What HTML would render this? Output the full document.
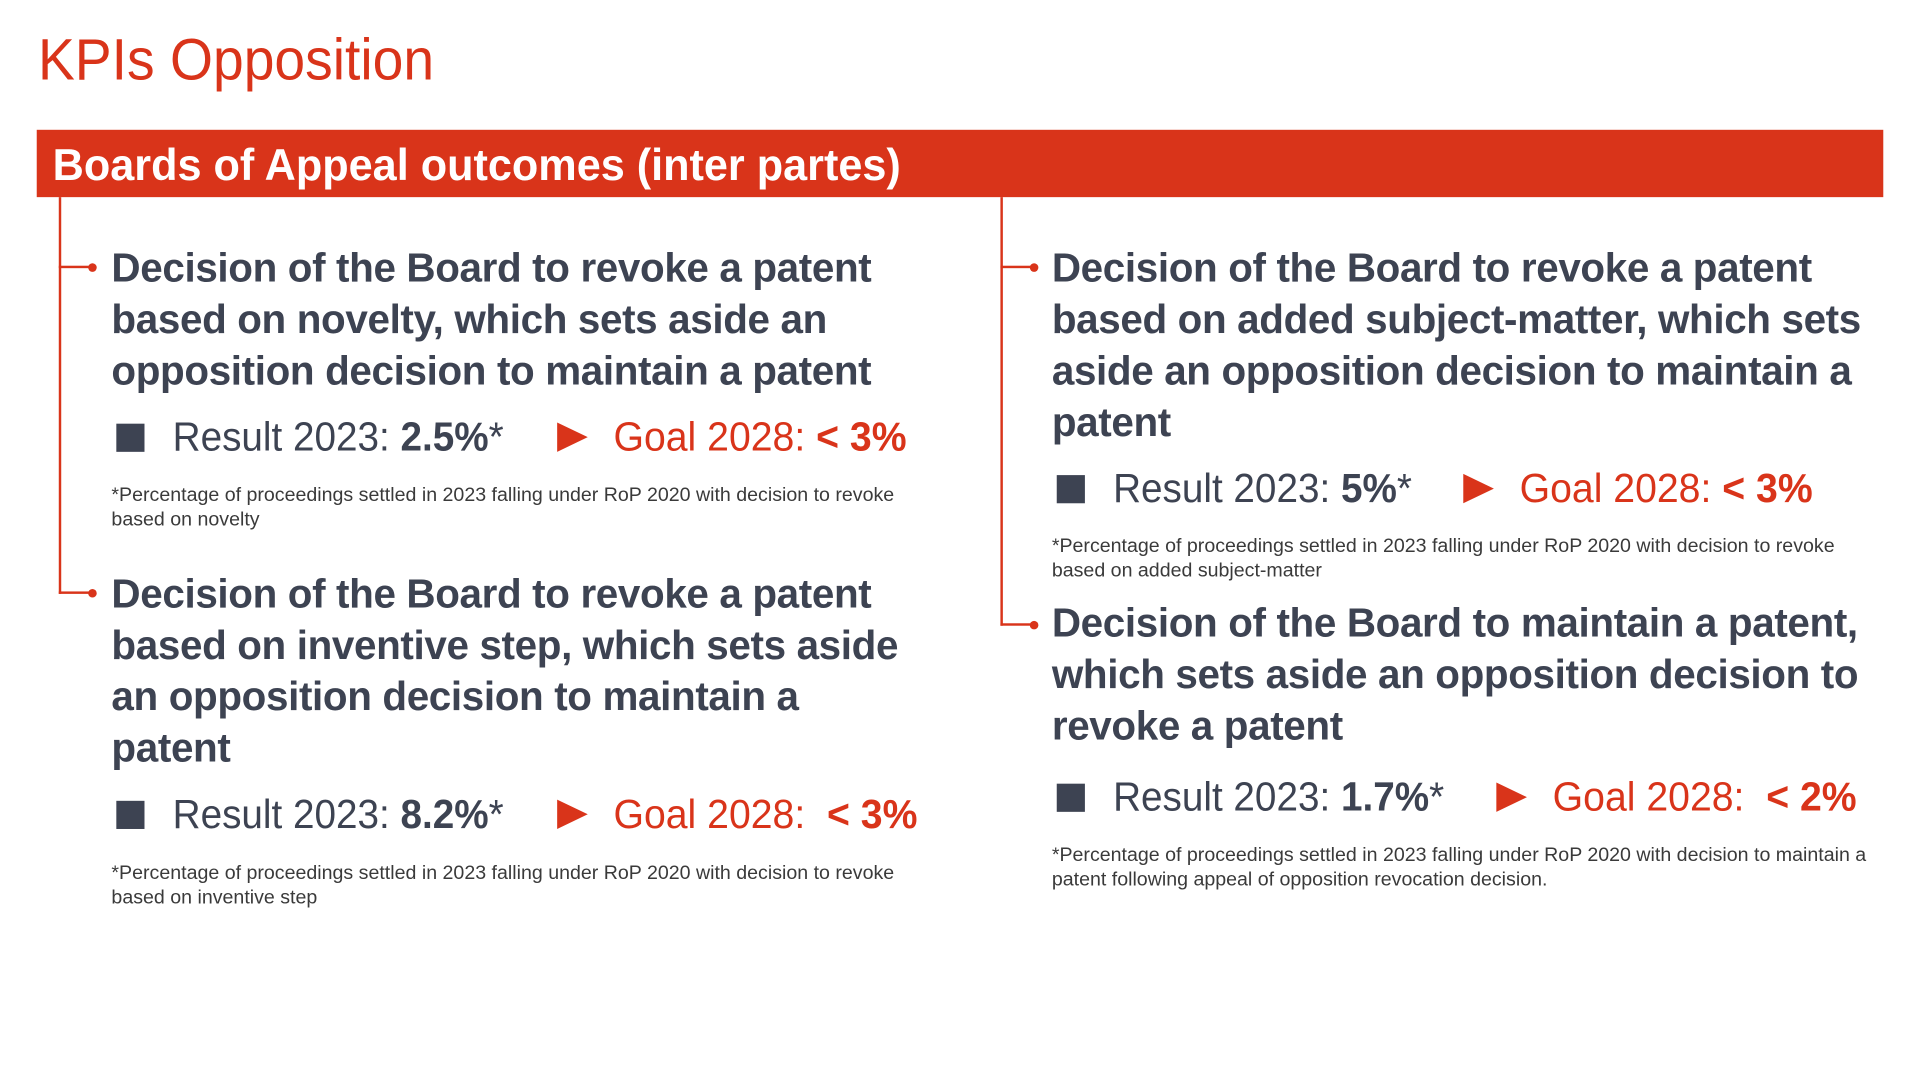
<!DOCTYPE html>
<html><head><meta charset="utf-8"><style>
html,body{margin:0;padding:0;background:#fff;}
body{width:1920px;height:1080px;overflow:hidden;position:relative;}
#c{position:absolute;left:0;top:0;width:1568px;height:882px;transform:scale(1.2245);transform-origin:0 0;font-family:"Liberation Sans",sans-serif;}
.a{position:absolute;white-space:nowrap;}
.h{font-weight:bold;font-size:33px;line-height:42px;color:#3d4352;transform:scaleX(1.0);transform-origin:0 0;letter-spacing:-0.3px;}
.r{font-size:33px;line-height:42px;color:#3d4352;transform:scaleX(0.957);transform-origin:0 0;}
.r b{font-weight:bold;}
.g{color:#d9341a;transform:scaleX(0.97);}
.f{font-size:16px;line-height:20px;color:#3a3a3a;transform:scaleX(1.0);transform-origin:0 0;}
.sq{position:absolute;width:23px;height:23px;background:#3d4352;}
.tri{position:absolute;width:0;height:0;border-top:12px solid transparent;border-bottom:12px solid transparent;border-left:25px solid #d9341a;}
.vl{position:absolute;width:2px;background:#d9341a;}
.hl{position:absolute;height:2px;background:#d9341a;}
.dot{position:absolute;width:7px;height:7px;border-radius:50%;background:#d9341a;}
</style></head><body><div id="c">
<div class="a" style="left:31px;top:20px;font-size:48px;line-height:60px;color:#d9341a;transform:scaleX(0.94);transform-origin:0 0;">KPIs Opposition</div>
<div class="a" style="left:30px;top:106px;width:1508px;height:55px;background:#d9341a;"></div>
<div class="a" style="left:43px;top:112px;font-size:36px;line-height:46px;font-weight:bold;color:#fff;transform:scaleX(0.98);transform-origin:0 0;">Boards of Appeal outcomes (inter partes)</div>

<div class="vl" style="left:48px;top:161px;height:324px;"></div>
<div class="hl" style="left:48px;top:217px;width:26px;"></div><div class="dot" style="left:72px;top:215px;"></div>
<div class="hl" style="left:48px;top:483px;width:26px;"></div><div class="dot" style="left:72px;top:481px;"></div>
<div class="vl" style="left:817px;top:161px;height:350px;"></div>
<div class="hl" style="left:817px;top:217px;width:26px;"></div><div class="dot" style="left:841px;top:215px;"></div>
<div class="hl" style="left:817px;top:509px;width:26px;"></div><div class="dot" style="left:841px;top:507px;"></div>

<div class="a h" style="left:91px;top:198px;">Decision of the Board to revoke a patent<br>based on novelty, which sets aside an<br>opposition decision to maintain a patent</div>
<div class="sq" style="left:95px;top:346px;"></div>
<div class="a r" style="left:141px;top:336px;">Result 2023: <b>2.5%</b>*</div>
<div class="tri" style="left:455px;top:345px;"></div>
<div class="a r g" style="left:501px;top:336px;">Goal 2028: <b>&lt; 3%</b></div>
<div class="a f" style="left:91px;top:395px;">*Percentage of proceedings settled in 2023 falling under RoP 2020 with decision to revoke<br>based on novelty</div>

<div class="a h" style="left:91px;top:464px;">Decision of the Board to revoke a patent<br>based on inventive step, which sets aside<br>an opposition decision to maintain a<br>patent</div>
<div class="sq" style="left:95px;top:654px;"></div>
<div class="a r" style="left:141px;top:644px;">Result 2023: <b>8.2%</b>*</div>
<div class="tri" style="left:455px;top:653px;"></div>
<div class="a r g" style="left:501px;top:644px;">Goal 2028: &nbsp;<b>&lt; 3%</b></div>
<div class="a f" style="left:91px;top:704px;">*Percentage of proceedings settled in 2023 falling under RoP 2020 with decision to revoke<br>based on inventive step</div>

<div class="a h" style="left:859px;top:198px;">Decision of the Board to revoke a patent<br>based on added subject-matter, which sets<br>aside an opposition decision to maintain a<br>patent</div>
<div class="sq" style="left:863px;top:388px;"></div>
<div class="a r" style="left:909px;top:378px;">Result 2023: <b>5%</b>*</div>
<div class="tri" style="left:1195px;top:387px;"></div>
<div class="a r g" style="left:1241px;top:378px;">Goal 2028: <b>&lt; 3%</b></div>
<div class="a f" style="left:859px;top:437px;">*Percentage of proceedings settled in 2023 falling under RoP 2020 with decision to revoke<br>based on added subject-matter</div>

<div class="a h" style="left:859px;top:488px;">Decision of the Board to maintain a patent,<br>which sets aside an opposition decision to<br>revoke a patent</div>
<div class="sq" style="left:863px;top:640px;"></div>
<div class="a r" style="left:909px;top:630px;">Result 2023: <b>1.7%</b>*</div>
<div class="tri" style="left:1222px;top:639px;"></div>
<div class="a r g" style="left:1268px;top:630px;">Goal 2028: &nbsp;<b>&lt; 2%</b></div>
<div class="a f" style="left:859px;top:689px;">*Percentage of proceedings settled in 2023 falling under RoP 2020 with decision to maintain a<br>patent following appeal of opposition revocation decision.</div>
</div></body></html>
